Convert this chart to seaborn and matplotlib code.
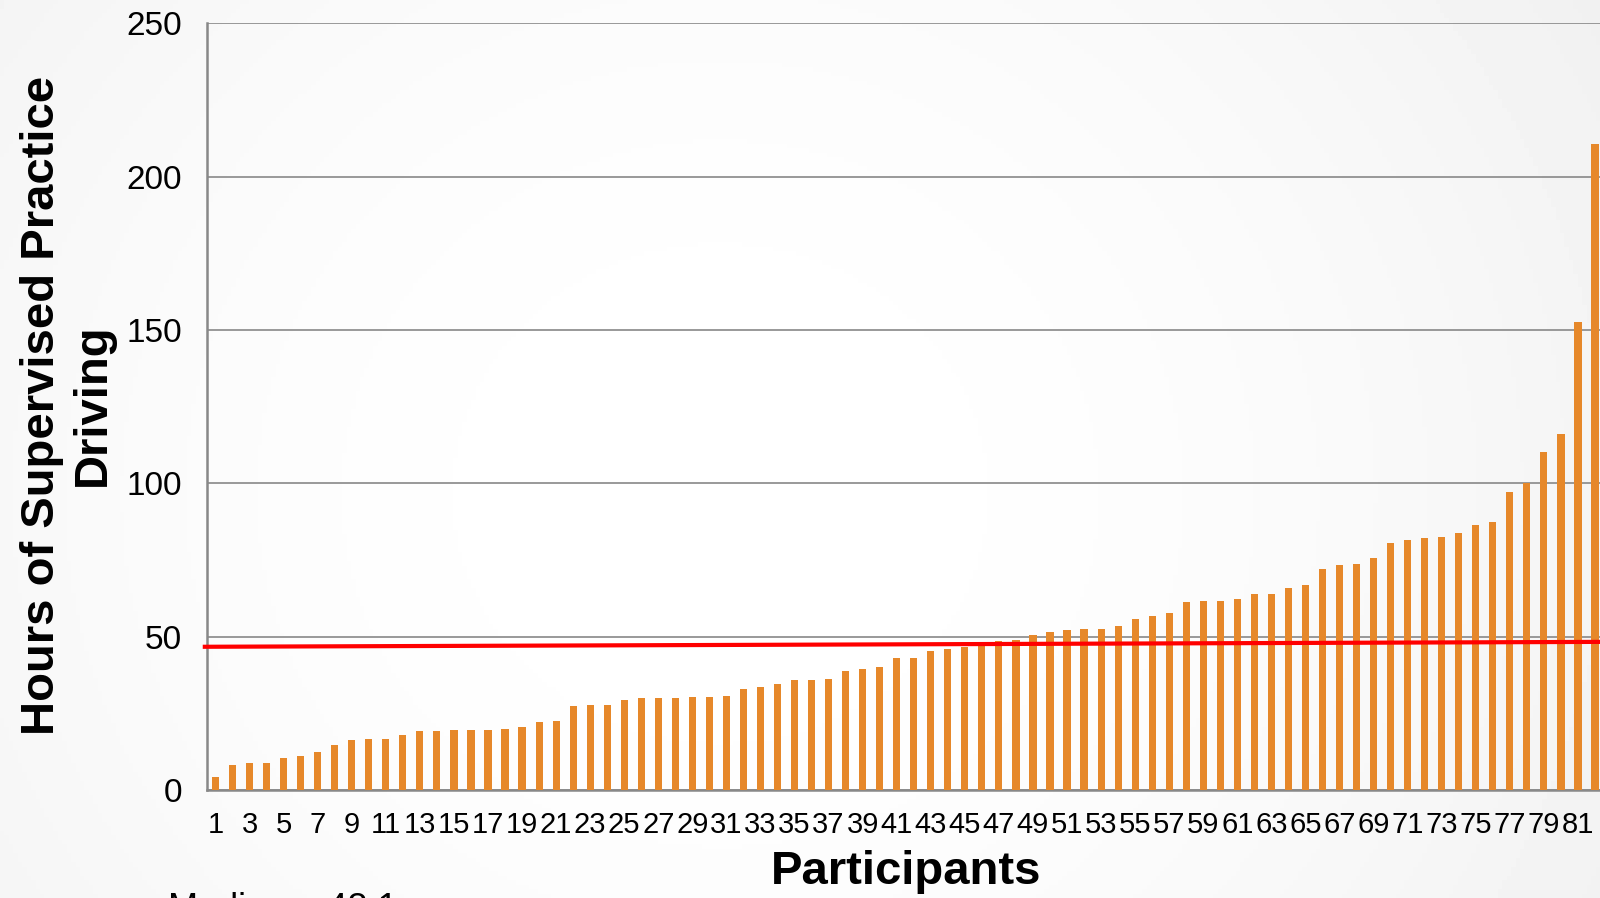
import matplotlib
matplotlib.use("Agg")
import matplotlib.pyplot as plt
import numpy as np
import pandas as pd
import seaborn as sns

# hours of supervised practice driving per participant (sorted)
hours = [4.2, 8.2, 8.7, 8.8, 10.3, 11.2, 12.3, 14.8, 16.2, 16.6,
         16.7, 17.9, 19.3, 19.3, 19.6, 19.6, 19.7, 20.0, 20.7, 22.1,
         22.4, 27.4, 27.7, 27.7, 29.2, 29.9, 30.0, 30.1, 30.3, 30.3,
         30.7, 32.8, 33.7, 34.5, 35.8, 35.9, 36.3, 38.8, 39.5, 40.0,
         43.0, 43.0, 45.2, 46.1, 46.7, 47.3, 48.7, 48.9, 50.5, 51.5,
         52.3, 52.5, 52.5, 53.5, 55.8, 56.7, 57.7, 61.2, 61.5, 61.7,
         62.3, 63.9, 63.9, 65.8, 66.7, 72.2, 73.4, 73.6, 75.5, 80.6,
         81.6, 82.2, 82.5, 83.9, 86.3, 87.5, 97.2, 100.0, 110.1, 116.1,
         152.7, 210.6]
participants = [str(i) for i in range(1, len(hours) + 1)]
tick_labels = [str(i) for i in range(1, len(hours) + 1, 2)]
median_line = [46.7, 48.3]   # red line, left end / right end
yticks = [0, 50, 100, 150, 200, 250]

df = pd.DataFrame({"participant": participants, "hours": hours})

sns.set_style("white")
plt.rcParams['font.family'] = ['Liberation Sans', 'DejaVu Sans']
plt.rcParams['text.color'] = 'black'
plt.rcParams['xtick.color'] = 'black'
plt.rcParams['ytick.color'] = 'black'

fig = plt.figure(figsize=(16, 8.98), dpi=100)

# slide background: white centre, faint grey towards the edges
bg = fig.add_axes([0, 0, 1, 1], zorder=-10)
yy, xx = np.mgrid[0:1:200j, 0:1:360j]
r = np.sqrt(((xx - 0.45) / 0.6) ** 2 + ((yy - 0.55) / 1.0) ** 2)
bg.imshow(1 - 0.05 * np.clip(r, 0, 1.4) ** 2, cmap="gray", vmin=0, vmax=1,
          aspect="auto", extent=[0, 1, 0, 1])
bg.axis("off")

grid_c = "#888888"
ax = fig.add_axes([207 / 1600, 1 - 790 / 898, (1603.5 - 207) / 1600, (790 - 23.3) / 898])
ax.set_facecolor("none")

sns.barplot(data=df, x="participant", y="hours", order=participants,
            color="#E6882A", saturation=1, width=0.42, linewidth=0,
            ax=ax, zorder=3)

ax.set_ylim(0, 250)
ax.set_xlim(-0.5, len(hours) - 0.5)
ax.set_yticks(yticks)
ax.set_yticklabels([str(v) for v in yticks], fontsize=24)
ax.yaxis.grid(True, color=grid_c, linewidth=1.2, zorder=0)
ax.set_axisbelow(True)
ax.tick_params(axis="y", length=7, width=1.2, color=grid_c, pad=11)

ax.set_xticks(range(0, len(hours), 2))
ax.set_xticklabels(tick_labels, fontsize=21)
ax.set_xticks(np.arange(-0.5, len(hours), 1), minor=True)
ax.tick_params(axis="x", which="major", length=0, pad=15)
ax.tick_params(axis="x", which="minor", length=7, width=1.2, color=grid_c)

ax.set_xlabel("")
ax.set_ylabel("")
for s in ["top", "right"]:
    ax.spines[s].set_visible(False)
for s in ["left", "bottom"]:
    ax.spines[s].set_color(grid_c)
    ax.spines[s].set_linewidth(1.8)

# median line
ax.plot([-0.75, len(hours) - 0.5], median_line, color="#FF0000", linewidth=3,
        zorder=5, clip_on=False, solid_capstyle="butt")

fig.text(67 / 1600, 1 - 405 / 898, "Hours of Supervised Practice\nDriving",
         rotation=90, ha="center", va="center", multialignment="center",
         fontsize=34, fontweight="bold")
fig.text(906 / 1600, 1 - 872 / 898, "Participants", ha="center", va="center",
         fontsize=34, fontweight="bold")
fig.text(168 / 1600, 1 - 892 / 898, "Median = 48.1", ha="left", va="top",
         fontsize=26)

fig.savefig("out.png", dpi=100)
